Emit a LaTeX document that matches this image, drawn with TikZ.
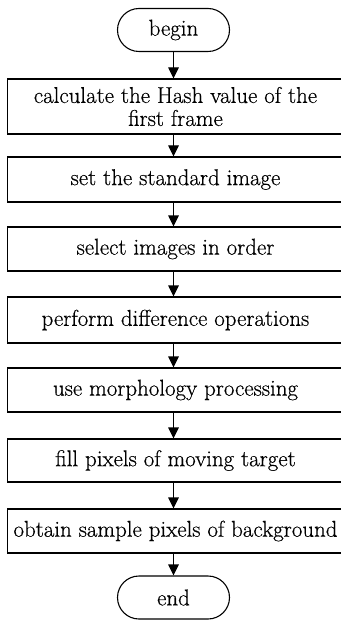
\documentclass[tikz,border=0pt]{standalone}
\usepackage{fontspec}
\setmainfont{Latin Modern Roman}[FakeBold=0.45]
\usetikzlibrary{arrows.meta}
\begin{document}
\begin{tikzpicture}[x=1pt,y=-1pt,
  stepbox/.style={draw, line width=1.1pt, minimum width=336pt, minimum height=44pt, inner sep=0pt, align=center, font=\fontsize{22.9}{23}\selectfont},
  termbox/.style={draw, line width=1.1pt, minimum width=112pt, minimum height=43pt, inner sep=0pt, rounded corners=21.5pt, font=\fontsize{22.9}{23}\selectfont},
  conn/.style={line width=1.1pt, -{Triangle[length=11pt,width=10.5pt]}}]
\useasboundingbox (0,0) rectangle (340,620);
\node[termbox] (b) at (173.5,30) {begin};
\node[stepbox, minimum height=55pt] (s1) at (175.5,106.5) {calculate the Hash value of the\\first frame};
\node[stepbox, minimum height=45pt] (s2) at (175.5,179.5) {set the standard image};
\node[stepbox] (s3) at (175.5,249) {select images in order};
\node[stepbox, minimum height=46pt] (s4) at (175.5,320) {perform difference operations};
\node[stepbox] (s5) at (175.5,390) {use morphology processing};
\node[stepbox, minimum height=43pt] (s6) at (175.5,460.5) {fill pixels of moving target};
\node[stepbox] (s7) at (175.5,531) {obtain sample pixels of background};
\node[termbox] (e) at (173.5,597.5) {end};
\draw[conn] (b) -- (b |- s1.north);
\draw[conn] (s1.south -| b) -- (s2.north -| b);
\draw[conn] (s2.south -| b) -- (s3.north -| b);
\draw[conn] (s3.south -| b) -- (s4.north -| b);
\draw[conn] (s4.south -| b) -- (s5.north -| b);
\draw[conn] (s5.south -| b) -- (s6.north -| b);
\draw[conn] (s6.south -| b) -- (s7.north -| b);
\draw[conn] (s7.south -| b) -- (e);
\end{tikzpicture}
\end{document}
